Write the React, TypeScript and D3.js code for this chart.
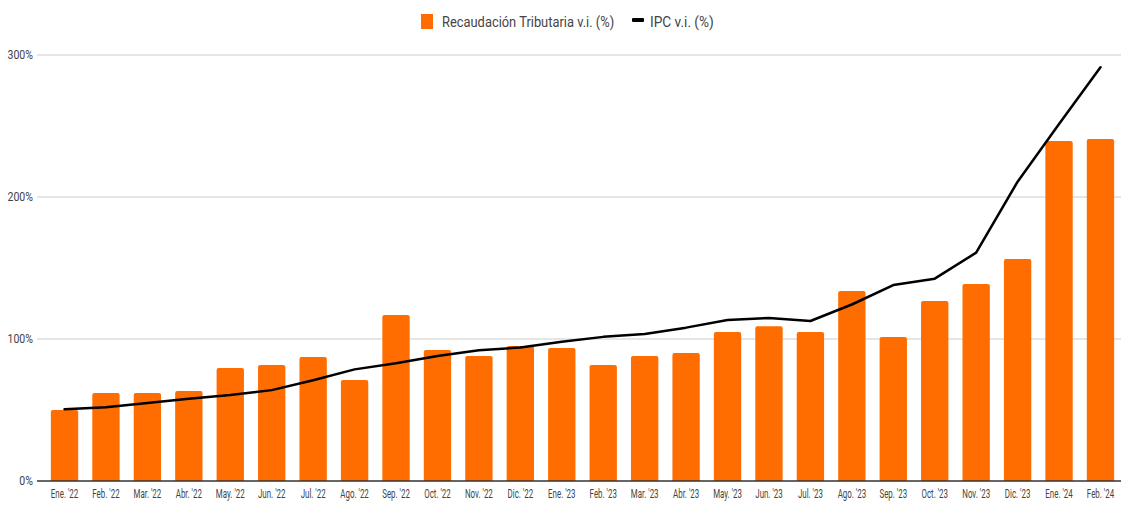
import React from "react";
import * as d3 from "d3";

const categories = ["Ene. '22","Feb. '22","Mar. '22","Abr. '22","May. '22","Jun. '22","Jul. '22","Ago. '22","Sep. '22","Oct. '22","Nov. '22","Dic. '22","Ene. '23","Feb. '23","Mar. '23","Abr. '23","May. '23","Jun. '23","Jul. '23","Ago. '23","Sep. '23","Oct. '23","Nov. '23","Dic. '23","Ene. '24","Feb. '24"];
const recaudacion = [50, 62, 62, 63.4, 79.6, 81.7, 87.3, 71.1, 116.9, 92.3, 88, 95, 93.7, 81.7, 88, 90.1, 105, 109, 105, 133.8, 101.4, 126.8, 138.7, 156.3, 239.4, 240.8];
const ipc = [50.5, 52, 55, 58, 60.5, 64, 71, 78.6, 82.9, 88, 92, 94, 98, 101.5, 103.5, 108, 113.4, 114.8, 112.7, 124.3, 138, 142.5, 160.8, 210.8, 251.4, 291.3];
const yTicks = [0, 100, 200, 300];
const seriesNames = ["Recaudación Tributaria v.i. (%)", "IPC v.i. (%)"];

const W = 1122, H = 505;
const FONT = "Roboto, sans-serif";

function SText({ x, y, sx, anchor, size, children }: { x: number; y: number; sx: number; anchor: string; size: number; children: React.ReactNode }) {
  return (
    <text transform={`translate(${x},${y}) scale(${sx},1)`} dy="0.35em" textAnchor={anchor} fontFamily={FONT} fontSize={size} fill="#444">
      {children}
    </text>
  );
}

export default function App() {
  const x = d3.scaleBand<string>().domain(categories).range([43.8, 1121.2]).paddingInner(0.34).paddingOuter(0.17);
  const y = d3.scaleLinear().domain([0, 300]).range([481, 55]);
  const line = d3.line<number>()
    .x((_, i) => (x(categories[i]) as number) + x.bandwidth() / 2)
    .y((d) => y(d))
    .curve(d3.curveLinear);
  const r = 2;
  return (
    <div style={{ position: "absolute", left: 0, top: 0 }}>
      <svg width={W} height={H} style={{ display: "block", background: "#fff" }}>
        {yTicks.map((t) => (
          <g key={t}>
            {t !== 0 && <line x1={37} x2={1121} y1={y(t)} y2={y(t)} stroke="#cccccc" strokeWidth={1} />}
            <SText x={33} y={y(t)} sx={0.88} anchor="end" size={12}>{t}%</SText>
          </g>
        ))}
        {recaudacion.map((v, i) => {
          const bx = x(categories[i]) as number;
          const bw = x.bandwidth();
          const top = y(v);
          const bottom = y(0);
          const path = `M${bx},${bottom} L${bx},${top + r} Q${bx},${top} ${bx + r},${top} L${bx + bw - r},${top} Q${bx + bw},${top} ${bx + bw},${top + r} L${bx + bw},${bottom} Z`;
          return <path key={i} d={path} fill="#FF6D01" />;
        })}
        <line x1={37} x2={1121} y1={y(0)} y2={y(0)} stroke="#333" strokeWidth={1.5} />
        <path d={line(ipc) || ""} fill="none" stroke="#000" strokeWidth={2.5} strokeLinejoin="round" strokeLinecap="round" />
        {categories.map((c) => (
          <SText key={c} x={(x(c) as number) + x.bandwidth() / 2} y={494} sx={0.66} anchor="middle" size={12}>{c}</SText>
        ))}
        <g>
          <rect x={421} y={14} width={12} height={15} fill="#FF6D01" />
          <SText x={442} y={21.5} sx={0.86} anchor="start" size={15}>{seriesNames[0]}</SText>
          <rect x={632} y={18} width={12} height={4} fill="#000" rx={1} />
          <SText x={650} y={21.5} sx={0.91} anchor="start" size={15}>{seriesNames[1]}</SText>
        </g>
      </svg>
    </div>
  );
}
